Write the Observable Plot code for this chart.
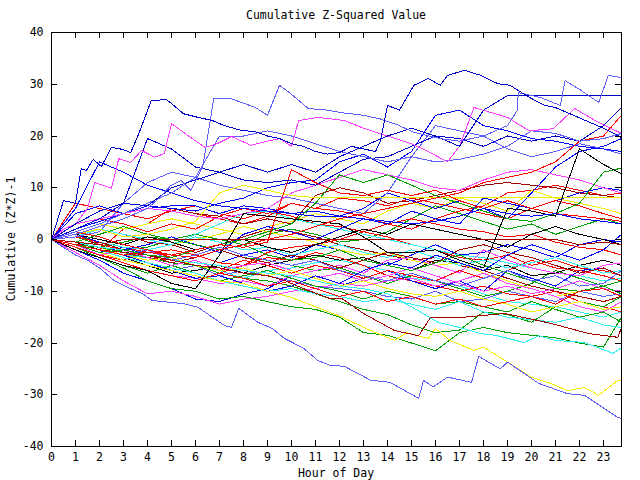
<!DOCTYPE html>
<html><head><meta charset="utf-8">
<script src="https://cdn.jsdelivr.net/npm/d3@7"></script>
<script src="https://cdn.jsdelivr.net/npm/@observablehq/plot@0.6"></script>
<style>html,body{margin:0;padding:0;background:#fff}</style>
</head><body><div id="chart"></div>
<script>
// sample hours (x) and axis ticks
const hours = [0,1,2,3,4,5,6,7,8,9,10,11,12,13,14,15,16,17,18,19,20,21,22,23,23.75];
const xTicks = [0,1,2,3,4,5,6,7,8,9,10,11,12,13,14,15,16,17,18,19,20,21,22,23];
const yTicks = [-40,-30,-20,-10,0,10,20,30,40];

// series traced in detail (own hour arrays)
const tU1 = [0,0.5,1,1.24,1.45,1.74,2.08,2.5,2.98,3.3,3.66,4.16,4.8,5.2,5.5,6.1,6.7,7.2,7.9,8.5,9,9.5,10,10.5,11,11.5,12,12.5,13,13.5,13.7,14,14.5,15.1,15.7,16.2,16.5,17.2,17.9,18.6,19.1,19.9,20.5,21,21.5,22,22.5,23,23.75];
const sU1 = [0,7.5,7,13.7,13.3,15.5,14.1,17.8,17.4,16.8,20.7,26.9,27,25.5,24.3,23.6,23,22,21.1,20.8,20,19.5,18.5,18,17,16.5,16.8,18,17.5,17,19,25.9,25,29.8,31.1,29.8,31.7,32.7,31.7,30.1,29.8,27.5,26,25.5,24.5,23.5,22.5,21.5,19.7];
const tU2 = [0,1,2,3,4,4.5,4.96,5.4,5.8,6.3,6.76,7.5,7.9,8.5,9,9.5,9.96,10.7,11.5,12.1,13,13.7,14.5,15.1,16.2,17,18,19,19.4,19.45,20.4,21.2,21.4,22,22.8,23.2,23.75];
const sU2 = [0,1,2.5,4,6,8.1,10.4,11.4,9.5,14,27.2,27.2,26.5,25.5,24,29.8,28.2,25.3,25,24.5,24,23.3,22,20.7,19.5,19,20,22,24.9,28.4,27.4,25.9,30.7,29,26.5,31.7,31.3];
const tM1 = [0,0.5,1,1.5,1.8,2.5,2.8,3.3,3.75,4.3,4.7,5,5.8,6.4,6.9,7.5,8.3,9,9.5,10,10.3,11.1,12.2,13,14,15,15.7,16.5,17,17.6,19,19.9,20.9,21.8,22.8,23.75];
const sM1 = [0,2,3,6,11,9.9,15.6,14.9,17.2,15.9,16.6,22.4,19.7,17.8,18.5,19.9,18.2,19,19.5,18,23,23.6,23,21.5,20,18.5,17,15,18,25.5,23.6,21,21.4,25.3,22.6,20.5];
const tSB = [0,0.5,1,1.5,2,2.6,3.3,3.8,4.2,5.5,6.1,7.2,7.5,7.8,8.6,9.2,9.7,10.5,11.1,11.6,12.2,13.3,14.1,15.3,15.5,15.9,16.5,17.5,17.8,18.7,19,20.3,21.5,22.2,23.6,23.75];
const sSB = [0,-1.5,-3,-4,-5.5,-7.9,-9.5,-10.5,-11.8,-12.4,-13.1,-16.6,-17,-13.3,-16,-17.2,-19.1,-21,-23.4,-24.3,-24.5,-27.2,-27.6,-30.7,-27.2,-28.5,-26.6,-27.6,-22.6,-25,-23.7,-27.8,-29.8,-30.1,-34.4,-34.6];
const tYL = [0,1,2,3,4,5,6,7,8,9,10,11,11.6,12.1,13.3,14.3,14.8,15.7,16,16.6,17.6,18,19,19.98,20.8,21.5,22.2,22.8,23.6,23.75];
const sYL = [0,-1,-2.5,-4,-5,-6,-7,-8,-8.5,-10,-11.2,-13,-14.1,-15,-17.6,-19.5,-18,-19.1,-17.2,-19.5,-21.4,-20.8,-23.7,-26.6,-27.8,-29.2,-28.6,-30.1,-27.2,-27.2];
const tC1 = [0,1,2,3,4,5,6,7,8,9,10,11,12,13,14,15,16.1,17,17.9,18.5,19.7,20.3,21,22.2,23.4,23.75];
const sC1 = [0,-0.5,-1.5,-2,-3,-4,-4.5,-5,-6,-6.5,-7,-8,-9,-9.5,-10.5,-13,-16,-17,-18.2,-18.5,-19.9,-18.6,-19.5,-19.9,-22,-20.9];
const tDR2 = [0,1,2,3,4,5,6,7,8,9,9.7,10.5,11.6,12.1,13,14.3,15.3,15.8,17.2,18.9,20.8,22.4,23.6,23.75];
const sDR2 = [0,-1,-2,-2.5,-3,-4,-5,-5.5,-6.5,-7,-7.9,-9.5,-11.4,-11.4,-14.3,-17.6,-18.6,-15,-15,-14.3,-16.2,-18.2,-18.9,-17];

// series read at whole hours (use `hours`)
const sU3  = [0,3,5.5,7,6.5,10,11.5,13,14.5,13,14.5,13,16,18,20,21.5,20,18,25,27.8,27.8,27.8,27.8,27.8,27.8];
const sU5  = [0,1.5,3,5,7,9,12,20,20,21,20,18.5,17,16,15,16,15,15.5,16.5,18,21,20.5,19,19.5,20.5];
const sD1  = [0,6,15,13,10.5,9,7.5,6.5,6,5.5,5,4.5,4.5,4,3.5,3,3.5,4.5,6,5,4.5,5,4,3.5,3];
const sD2  = [0,2,4,7,19.5,17.5,14,13,11.5,11,11.5,10.5,13,15.5,16,18,20,19.5,18,20,19,20,19,22,25.5];
const sR1  = [0,1.5,0.5,-1,-2,-3,-3.5,-2,-1,0,1,2.5,4,5,6,7,8,9,11,12,13,15,19,20,24];
const sR2  = [0,-1,-2,-3,-2.5,-3,-2,-1,-1.5,-0.5,13.5,11,9,8.5,9.5,8.5,9.5,7.5,6,7.5,6,5,4.5,4,3.5];
const sB1  = [0,-2,-3.5,-5,-6,-8.5,-9.5,-3,5,4.5,4,3.5,3,0.5,-2.5,-2.5,-2,-4,-5.5,6,5.5,4.5,17.5,14.5,12.7];
const sDR0 = [0,-0.5,-1,0,0,0,0,0,0,0,0,0,0,0,0,0,0,0,0,0,0,0,-1,-0.5,-1];
const sY1  = [0,1,2,0.5,1,2,3.5,9,10.5,9.5,8.5,8.1,8.1,8.1,8.1,8.1,8.1,8.1,8.1,8.1,8.1,8.1,8.1,8.1,8.1];
const sG1  = [0,-1,-2.5,-2,-3,-3.5,-2,-1,0,1.5,3,7,12.5,11,12.5,10.5,8.5,7,5.5,4,3.5,5,7,13,13.8];
const sM2  = [0,3,4,5,6,5.5,4.5,4,5,6,9,10.5,12,13.5,12.5,11.5,10,9.5,11.5,13,13.5,12.5,11.5,10,9];
const sBL3 = [0,2,3.5,5,6.5,6,5.5,7,8,10,11,11.5,15,16.5,14,17,24,25,22,21,19.5,19,18,17.5,17];
const sBL4 = [0,0.5,1.5,7,11,13,12,10.5,9.5,8.5,8,7,6,5,9,16,22,21,20,17.5,16,17,18.5,17.5,16.5];
const sBL5 = [0,5,6.5,5,6,6.5,6.5,5,6.5,6,5,5.5,4.5,6,9,7.5,6,7.5,6,4,9,14,17,18,19.5];
const sDR1 = [0,1.5,3,5,6.5,6,5,4.5,3,4,3,8.5,10,9,7,7.5,8.5,9.5,10.5,11,10.5,10,9,8.5,8];
const sG2  = [0,-1.5,-3.5,-5.5,-8,-9.5,-10,-11.5,-11,-12,-13,-13.5,-15,-18,-18.5,-20,-21.5,-18,-17,-18,-18.5,-19,-20,-20.8,-15];
const sG3  = [0,-0.5,-1.5,-2.5,-3.5,-4.5,-5,-6.5,-7.5,-8,-9,-10.5,-12,-13.5,-14.5,-16.5,-18,-17.5,-14,-14.5,-16,-13,-12,-13,-11];
const sP1  = [0,-2.5,-5,-8,-10.5,-10,-11,-12.5,-11.5,-11,-10,-9.5,-8.5,-9,-8,-7.5,-9,-8,-6.5,-8.5,-9.5,-11,-13,-14,-12];
const sP2  = [0,-1,-3,-4.5,-6,-7,-7.5,-8.5,-8,-9,-7,-6,-5,-6.5,-4,-3.5,-5,-6.5,-2,-4,-5.5,-6.5,-7,-5,-4.5];
const sBLL = [0,-2,-4,-6.5,-8,-9.5,-11.5,-12,-10.5,-9.5,-7,-8,-9,-7.5,-6,-8,-9.5,-8,-10,-6,-7.5,-9,-6,-5.5,-7];
const sC2  = [0,1,-0.5,-1.5,-2,-1,1,3,5,5.5,4,3,2,1,0,-1,-2,-3,-3.5,-4.5,-5.5,-6.5,-7,-8,-7.5];
const sC3  = [0,-0.5,-2,-3,-3.5,-4,-5,-6,-7.5,-6,-5.5,-4.5,-4,-5,-6,-7.5,-8,-9,-10.5,-12,-12.5,-13,-14,-15,-14];
const sY2  = [0,-0.5,-1.5,-3,-2,-1,0,1,2.5,1.5,0.5,-0.5,-2,-3,-2.5,-4,-5,-4.5,-6.5,-8,-9.5,-11,-10,-9.5,-11];
const sY3  = [0,1.5,3,2,3,4,3,2,1,2.5,3.5,5,4,3,5.5,7,6,8,7,5.5,9.5,8,7,6,5];
const sR3  = [0,-1,-2,2,3,6,5,4,3,4.5,7,6,5.5,4.5,3,4,3,2,1.5,0.5,1,-0.5,-1.5,-2,-3];
const sR4  = [0,0.5,-0.5,-1.5,-2.5,-2,-3,-4.5,-5,-3.5,-4,-2.5,-3.5,-5,-7,-8,-9,-10,-9,-10.5,-11,-10,-12,-13,-14];
const sR5  = [0,1,-1,-2,-3.5,-4,-5,-6.5,-5,-2.5,-1.5,-1,0,1.5,3,2,4,5.5,6.5,9,9.5,10.5,9.5,8.5,9];
const sR6  = [0,7,6,5,4,5.5,6.5,5,4,5.5,4.5,3,2.5,1.5,0.5,-1,-2,-3.5,-4,-3,-5,-4,-5.5,-6,-7];
const sDR3 = [0,0.5,2,1,-0.5,-1,-2.5,-1,0.5,2,1.5,0.5,-1,-2,-3,-4,-3.5,-5,-6,-7.5,-9,-10,-11,-12,-11];
const sG5  = [0,0.5,-1,-2,-1.5,0,-1,-2,-3.5,-4,-5,-6,-5.5,-7,-8.5,-7,-8,-9.5,-11,-10,-8.5,-6,-7.5,-9,-8];
const sG6  = [0,-1,-1.5,-0.5,0.5,0,1,0,-1,1,2,1,-0.5,0,1.5,4,6.5,5,3.5,2,3,1,2.5,4,3];
const sB4  = [0,-0.5,-2,-3.5,-5,-6.5,-6,-5,-6.5,-5,-4,-3,-4,-3.5,-5,-6,-4,-4.5,-6,-5,-7,-6.5,-5,-4,-5];
const sBL6 = [0,-1,-2.5,-1.5,-3,-4,-3,-4.5,-3,-2,-3.5,-1,-2,-4,-5,-3,-1,-3,-2.5,-1,-2,-3.5,-1,0,-0.5];
const sBL7 = [0,-1.5,-3,-4,-5,-6,-5,-7,-6,-7,-8,-9,-9.5,-10,-11,-11.5,-10,-12,-11.5,-10,-11,-12,-10,-11,-10.5];
const sN1  = [0,-1.5,-3,-4,-2,-3.5,-5,-6,-4,-5,-6.5,-5,-6,-7.5,-6,-7,-8,-6,-7.5,-6,-4,-5.5,-6,-7,-8];
const sN2  = [0,1,-0.5,-2,-1,0.5,-1,-2.5,1,2.5,1.5,0,2,4,3,5.5,4,3,8,7,6,7.5,9,10,9.5];
const sN3  = [0,-2,-3.5,-5,-6.5,-5,-6.5,-8,-7,-6,-7.5,-9,-10,-11.5,-10,-11,-12.5,-12,-13,-14,-12,-13.5,-15,-14,-16];
const sN4  = [0,0.5,2,1,0,-1,0.5,-0.5,-2,-1.5,-3,-2,-1,-2.5,-3.5,-2,-3.5,-5,-4,-5.5,-4.5,-3.5,-5,-6.5,-6];
const sN5  = [0,-1.5,-3,-2,-3.5,-5,-4,-6,-5,-4.5,-6,-7.5,-6.5,-8,-7,-5.5,-7,-8.5,-10,-9,-10.5,-9.5,-8,-9.5,-10];
const sN6  = [0,-1,-0.5,-2,-3,-4.5,-3.5,-2,-3.5,-4.5,-3,-4,-5.5,-4,-2.5,-3.5,-4.5,-2,-1,-2.5,-3.5,-5,-6.5,-5.5,-7];
const sN7  = [0,-1,-2,-3,-4,-3.5,-5,-6,-5.5,-7,-6,-7.5,-9,-8,-9.5,-10.5,-11,-10,-11.5,-12.5,-14,-13,-12,-13.5,-13];
const sN8  = [0,1,0,-1,0.5,-0.5,-2,-1,0,-1.5,-2.5,-1,0.5,2,1,3,2,1,0,-1.5,1,2.5,1,0,-1];
const sN9  = [0,2,4,3,1.5,3,2,4.5,6,5,7,6,8,7.5,6.5,8,7,6,5,4,6,7.5,6.5,5,4];
const sN10 = [0,-0.5,1,2.5,1,0,-1,-2,-1,-3,-4,-3.5,-2,-4,-5,-6,-4.5,-3,-5,-6.5,-8,-9.5,-10,-9,-10.5];
const sN11 = [0,-1,-2,-3,-2,-4,-3,-1.5,-3,-4,-5,-4,-6,-7,-8,-6.5,-8,-9,-7.5,-6,-8,-7,-9,-8.5,-6];
const sN12 = [0,-1,-2,-3,-4.5,-6,-7.5,-7,-8.5,-10,-9,-7,-8.5,-6,-4.5,-5.5,-3,-4.5,-6,-3,-1,-2.5,-4,-2,1];
const sN13 = [0,-1,-2,-3.5,-4.5,-5.5,-6.5,-8,-9,-10,-9.5,-10.5,-11,-12,-11.5,-12.5,-13.5,-12,-14,-15,-15.5,-16,-15,-16.5,-17];
const sN14 = [0,-1.5,-3,-4.5,-6,-7,-8,-6.5,-7.5,-9,-8,-9.5,-11,-10,-12,-11,-12.5,-11.5,-13,-12,-11,-12.5,-10,-9.5,-11];

const seriesValues = [sC3,sBL7,sG5,sB4,sBL6,sG6,sDR3,sR6,sR5,sR4,sR3,sY3,sY2,sC2,sBLL,sP2,sP1,sG3,sG2,sN1,sN2,sN3,sN4,sN5,sN6,sN7,sN8,sN9,sN10,sN11,sN12,sN13,sN14,sC1,sYL,sSB,sDR2,sDR1,sBL5,sBL4,sBL3,sM2,sG1,sY1,sDR0,sB1,sR2,sR1,sD2,sD1,sU5,sM1,sU3,sU2,sU1];
const seriesTimes  = [hours,hours,hours,hours,hours,hours,hours,hours,hours,hours,hours,hours,hours,hours,hours,hours,hours,hours,hours,hours,hours,hours,hours,hours,hours,hours,hours,hours,hours,hours,hours,hours,hours,tC1,tYL,tSB,tDR2,hours,hours,hours,hours,hours,hours,hours,hours,hours,hours,hours,hours,hours,hours,tM1,hours,tU2,tU1];
const seriesColors = ["cyan","slate","green","black","blue","green","darkred","red","red","red","red","yellow","yellow","cyan","blue","magenta","magenta","green","green","red","blue","green","cyan","magenta","darkred","yellow","black","red","green","slate","blue","cyan","red","cyan","yellow","slate","darkred","darkred","blue","slate","blue","magenta","green","yellow","darkred","black","red","red","navy","blue","slate","magenta","navy","slate","navy"];
const palette = {red:"#ff0000", green:"#00a000", blue:"#0000ff", slate:"#6060ff", magenta:"#ff40ff", cyan:"#30f0f0", darkred:"#a00000", yellow:"#f0f000", black:"#000000", navy:"#0000c8"};

const table = seriesValues.flatMap((vals, i) => vals.map((v, j) => ({series: i, hour: seriesTimes[i][j], value: v})));

const lineMarks = seriesValues.map((vals, i) =>
  Plot.line(table.filter(d => d.series === i), {x: "hour", y: "value", stroke: palette[seriesColors[i]], strokeWidth: 1})
);

const plot = Plot.plot({
  width: 640, height: 480,
  marginLeft: 51, marginRight: 19, marginTop: 32, marginBottom: 34,
  x: {domain: [0, 23.75]},
  y: {domain: [-40, 40]},
  style: {fontFamily: "'DejaVu Sans Mono', monospace", fontSize: "11.5px", background: "white", color: "black"},
  marks: [
    ...lineMarks,
    Plot.ruleX(xTicks, {y1: -40, y2: -38.84, stroke: "black"}),
    Plot.ruleX(xTicks, {y1: 40, y2: 38.84, stroke: "black"}),
    Plot.ruleY(yTicks, {x1: 0, x2: 0.25, stroke: "black"}),
    Plot.ruleY(yTicks, {x1: 23.5, x2: 23.75, stroke: "black"}),
    Plot.frame({stroke: "black"}),
    Plot.axisX(xTicks, {tickSize: 0, tickPadding: 6, label: null, tickFormat: d => String(d)}),
    Plot.axisY(yTicks, {tickSize: 0, tickPadding: 8, label: null, tickFormat: d => String(d)})
  ]
});

const svg = d3.select(plot);
svg.selectAll("path, line, rect").attr("shape-rendering", "crispEdges");
svg.append("text").attr("x", 336).attr("y", 19).attr("text-anchor", "middle").attr("fill", "black").text("Cumulative Z-Squared Value");
svg.append("text").attr("x", 336).attr("y", 477).attr("text-anchor", "middle").attr("fill", "black").text("Hour of Day");
svg.append("text").attr("transform", "translate(15,239) rotate(-90)").attr("text-anchor", "middle").attr("fill", "black").text("Cumulative (Z*Z)-1");
document.getElementById("chart").appendChild(plot);
</script>
</body></html>
